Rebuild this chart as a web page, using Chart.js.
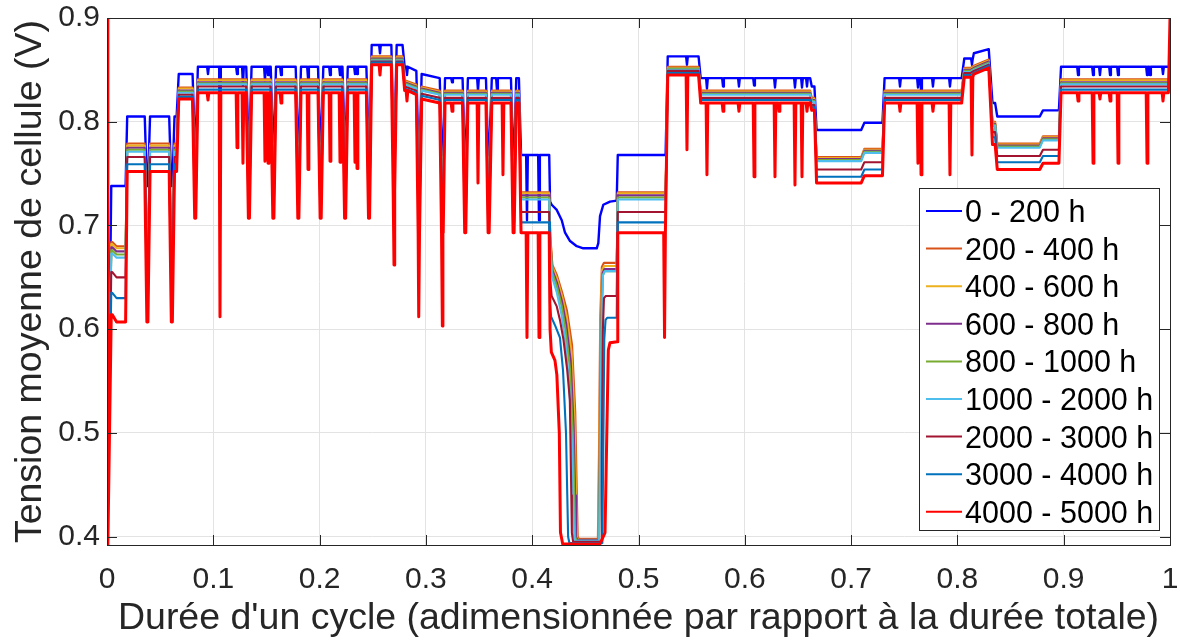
<!DOCTYPE html>
<html>
<head>
<meta charset="utf-8">
<script src="https://cdn.jsdelivr.net/npm/chart.js@4.4.1/dist/chart.umd.min.js"></script>
<style>
    html, body { margin: 0; padding: 0; background: #fff; }
    #wrap { width: 1180px; height: 641px; }
</style>
</head>
<body>
<div id="wrap"><canvas id="chart" width="1180" height="641"></canvas></div>
<script>
// legend / series
const seriesLabels = ['0 - 200 h', '200 - 400 h', '400 - 600 h', '600 - 800 h', '800 - 1000 h',
    '1000 - 2000 h', '2000 - 3000 h', '3000 - 4000 h', '4000 - 5000 h'];
const seriesColors = ['#0000FF', '#D95319', '#EDB120', '#7E2F8E', '#77AC30',
    '#4DBEEE', '#A2142F', '#0072BD', '#FF0000'];

const xTicks = [0, 0.1, 0.2, 0.3, 0.4, 0.5, 0.6, 0.7, 0.8, 0.9, 1];
const xTickLabels = ['0', '0.1', '0.2', '0.3', '0.4', '0.5', '0.6', '0.7', '0.8', '0.9', '1'];
const yTicks = [0.4, 0.5, 0.6, 0.7, 0.8, 0.9];
const yTickLabels = ['0.4', '0.5', '0.6', '0.7', '0.8', '0.9'];

// voltage levels (V), one value per series in the order above
const lvlEdge0   = [0.392, 0.392, 0.392, 0.392, 0.392, 0.392, 0.392, 0.392, 0.900];
const lvlFloor   = [0.392, 0.392, 0.392, 0.392, 0.392, 0.392, 0.392, 0.392, 0.392];
const lvlStartPk = [0.738, 0.684, 0.682, 0.679, 0.676, 0.673, 0.655, 0.635, 0.614];
const lvlStart   = [0.738, 0.680, 0.678, 0.675, 0.672, 0.669, 0.650, 0.630, 0.607];
const lvlLow     = [0.805, 0.779, 0.777, 0.775, 0.773, 0.771, 0.766, 0.759, 0.752];
const lvlHighE   = [0.846, 0.833, 0.832, 0.830, 0.829, 0.828, 0.826, 0.824, 0.822];
const lvlHigh    = [0.853, 0.841, 0.840, 0.838, 0.837, 0.836, 0.834, 0.831, 0.828];
const lvlGap1    = [0.781, 0.745, 0.744, 0.742, 0.740, 0.738, 0.729, 0.720, 0.707];
const lvlTop     = [0.874, 0.863, 0.862, 0.861, 0.860, 0.859, 0.858, 0.857, 0.855];
const lvlGapM    = [0.782, 0.757, 0.755, 0.753, 0.751, 0.749, 0.745, 0.740, 0.734];
const lvlSlopeA  = [0.853, 0.840, 0.839, 0.838, 0.837, 0.836, 0.834, 0.832, 0.830];
const lvlSlopeB  = [0.849, 0.836, 0.835, 0.834, 0.833, 0.832, 0.830, 0.828, 0.826];
const lvlMid     = [0.768, 0.732, 0.731, 0.729, 0.727, 0.725, 0.713, 0.703, 0.693];
const lvlHiB0    = [0.846, 0.834, 0.833, 0.832, 0.831, 0.830, 0.827, 0.825, 0.822];
const lvlHiB     = [0.842, 0.830, 0.829, 0.828, 0.827, 0.826, 0.823, 0.821, 0.818];
const lvlT       = [0.863, 0.853, 0.852, 0.851, 0.851, 0.850, 0.849, 0.847, 0.845];
const lvlHiBEnd  = [0.834, 0.823, 0.822, 0.821, 0.820, 0.819, 0.816, 0.814, 0.811];
const lvlV       = [0.792, 0.766, 0.765, 0.764, 0.763, 0.762, 0.754, 0.747, 0.741];
const lvlV2      = [0.799, 0.774, 0.773, 0.772, 0.771, 0.770, 0.761, 0.754, 0.748];
const lvlX1      = [0.861, 0.852, 0.851, 0.850, 0.849, 0.848, 0.847, 0.845, 0.843];
const lvlX2a     = [0.866, 0.854, 0.853, 0.852, 0.851, 0.850, 0.849, 0.847, 0.846];
const lvlX2b     = [0.870, 0.860, 0.859, 0.858, 0.857, 0.856, 0.855, 0.854, 0.852];
const lvlZ1      = [0.818, 0.800, 0.799, 0.798, 0.797, 0.796, 0.790, 0.785, 0.778];
const lvlZ       = [0.805, 0.779, 0.778, 0.777, 0.776, 0.775, 0.767, 0.761, 0.754];
const lvlZ2      = [0.811, 0.786, 0.785, 0.784, 0.783, 0.782, 0.773, 0.767, 0.760];
const lvlEdge1   = [0.853, 0.841, 0.840, 0.838, 0.837, 0.836, 0.834, 0.831, 0.900];

// plateaus of the cycle: [start, end, level at start, level at end]
const segments = [
    [0, 0, lvlEdge0], [0.0008, 0.0008, lvlFloor], [0.004, 0.005, lvlStartPk], [0.009, 0.0175, lvlStart],
    [0.0190, 0.0355, lvlLow], [0.0375, 0.0385, lvlStart], [0.0405, 0.0585, lvlLow],
    [0.0605, 0.0615, lvlStart], [0.0635, 0.0655, lvlLow], [0.0675, 0.0805, lvlHighE],
    [0.0825, 0.0835, lvlGap1], [0.0855, 0.1310, lvlHigh], [0.1330, 0.1340, lvlGap1],
    [0.1360, 0.1540, lvlHigh], [0.1560, 0.1570, lvlGap1], [0.1590, 0.1775, lvlHigh],
    [0.1795, 0.1805, lvlGap1], [0.1825, 0.1985, lvlHigh], [0.2005, 0.2015, lvlGap1],
    [0.2035, 0.2215, lvlHigh], [0.2235, 0.2245, lvlGap1], [0.2265, 0.2440, lvlHigh],
    [0.2460, 0.2470, lvlGap1], [0.2490, 0.2675, lvlTop], [0.2695, 0.2705, lvlGapM],
    [0.2725, 0.2780, lvlTop], [0.2800, 0.2910, lvlSlopeA, lvlSlopeB], [0.2930, 0.2940, lvlMid],
    [0.2960, 0.3130, lvlHiB0, lvlHiB], [0.3150, 0.3160, lvlMid], [0.3180, 0.3345, lvlHiB],
    [0.3365, 0.3375, lvlMid], [0.3395, 0.3565, lvlHiB], [0.3585, 0.3595, lvlMid],
    [0.3620, 0.3800, lvlHiB], [0.3820, 0.3830, lvlMid], [0.3850, 0.3875, lvlHiB],
    [0.3895, 0.4160, lvlMid],
    [0.4805, 0.5255, lvlMid], [0.5275, 0.5565, lvlT], [0.5585, 0.6615, lvlHiB],
    [0.6630, 0.6655, lvlHiBEnd], [0.6675, 0.7095, lvlV], [0.7125, 0.7295, lvlV2],
    [0.7315, 0.8040, lvlHiB], [0.8065, 0.8125, lvlX1], [0.8155, 0.8295, lvlX2a, lvlX2b],
    [0.8330, 0.8355, lvlZ1], [0.8375, 0.8775, lvlZ], [0.8805, 0.8955, lvlZ2],
    [0.8975, 0.9985, lvlHigh], [1, 1, lvlEdge1]
];

// the deep trough around x = 0.42 - 0.48, per series [x, V]
const troughCurves = [
    [[0.4168, 0.723], [0.4183, 0.720], [0.4231, 0.715], [0.4278, 0.705], [0.4309, 0.693], [0.4356, 0.685],
     [0.4419, 0.680], [0.4481, 0.678], [0.4607, 0.678], [0.4622, 0.683], [0.4638, 0.709], [0.4669, 0.720],
     [0.4732, 0.723], [0.4795, 0.724]],
    [[0.4170, 0.690], [0.4190, 0.662], [0.4233, 0.652], [0.4280, 0.636], [0.4327, 0.618], [0.4375, 0.585],
     [0.4405, 0.520], [0.4420, 0.440], [0.4428, 0.400], [0.4440, 0.398], [0.4618, 0.398], [0.4628, 0.480],
     [0.4640, 0.610], [0.4655, 0.660], [0.4675, 0.664], [0.4795, 0.664]],
    [[0.4170, 0.688], [0.4190, 0.660], [0.4233, 0.649], [0.4280, 0.632], [0.4325, 0.612], [0.4370, 0.578],
     [0.4398, 0.515], [0.4412, 0.440], [0.4420, 0.400], [0.4432, 0.397], [0.4622, 0.397], [0.4632, 0.480],
     [0.4644, 0.605], [0.4658, 0.657], [0.4678, 0.661], [0.4795, 0.661]],
    [[0.4170, 0.686], [0.4190, 0.657], [0.4233, 0.645], [0.4280, 0.627], [0.4320, 0.605], [0.4362, 0.570],
     [0.4390, 0.505], [0.4404, 0.440], [0.4412, 0.400], [0.4424, 0.397], [0.4626, 0.397], [0.4636, 0.480],
     [0.4648, 0.600], [0.4662, 0.654], [0.4680, 0.658], [0.4795, 0.658]],
    [[0.4170, 0.684], [0.4190, 0.654], [0.4233, 0.641], [0.4278, 0.622], [0.4316, 0.598], [0.4355, 0.562],
     [0.4382, 0.500], [0.4396, 0.440], [0.4404, 0.400], [0.4416, 0.396], [0.4628, 0.396], [0.4638, 0.480],
     [0.4650, 0.598], [0.4664, 0.652], [0.4682, 0.656], [0.4795, 0.656]],
    [[0.4170, 0.680], [0.4188, 0.650], [0.4230, 0.636], [0.4274, 0.615], [0.4310, 0.590], [0.4345, 0.552],
     [0.4372, 0.495], [0.4386, 0.440], [0.4394, 0.400], [0.4406, 0.396], [0.4630, 0.396], [0.4640, 0.480],
     [0.4652, 0.596], [0.4666, 0.652], [0.4684, 0.656], [0.4795, 0.656]],
    [[0.4168, 0.650], [0.4183, 0.632], [0.4231, 0.622], [0.4261, 0.609], [0.4294, 0.590], [0.4330, 0.560],
     [0.4354, 0.532], [0.4368, 0.440], [0.4373, 0.404], [0.4385, 0.395], [0.4648, 0.395], [0.4655, 0.480],
     [0.4665, 0.600], [0.4675, 0.630], [0.4692, 0.632], [0.4795, 0.632]],
    [[0.4167, 0.625], [0.4178, 0.612], [0.4218, 0.603], [0.4261, 0.592], [0.4290, 0.560], [0.4318, 0.500],
     [0.4330, 0.440], [0.4338, 0.400], [0.4350, 0.394], [0.4660, 0.394], [0.4668, 0.480], [0.4678, 0.590],
     [0.4690, 0.609], [0.4705, 0.611], [0.4795, 0.611]],
    [[0.4168, 0.600], [0.4180, 0.578], [0.4214, 0.570], [0.4232, 0.556], [0.4255, 0.500], [0.4266, 0.404],
     [0.4287, 0.393], [0.4638, 0.393], [0.4685, 0.404], [0.4716, 0.580], [0.4732, 0.587], [0.4798, 0.588]]
];

// short dips: position, bottom of the 0-200 h curve, bottom of the 4000-5000 h curve
const dipX    = [0.0950, 0.1063, 0.1223, 0.1279, 0.1486, 0.1515, 0.1637, 0.1891, 0.2098, 0.2192,
                 0.2333, 0.2352, 0.2568, 0.2700, 0.2822, 0.2935, 0.3155, 0.3246, 0.3490, 0.3669,
                 0.3725, 0.3951, 0.4064, 0.5245, 0.5456, 0.5644, 0.5795, 0.5945, 0.6087, 0.6284,
                 0.6322, 0.6472, 0.6538, 0.6585, 0.7460, 0.7629, 0.7658, 0.7770, 0.7930, 0.8137,
                 0.9135, 0.9276, 0.9341, 0.9436, 0.9511, 0.9784, 0.9812, 0.9934];
const dipBlue = [0.846, 0.744, 0.846, 0.835, 0.840, 0.845, 0.845, 0.842, 0.845, 0.845,
                 0.846, 0.846, 0.866, null, 0.845, null, null, 0.838, 0.830, 0.830,
                 null, 0.705, 0.705, null, 0.855, 0.832, 0.834, 0.834, 0.835, 0.833,
                 null, 0.833, 0.833, 0.834, 0.834, 0.833, 0.830, 0.834, 0.834, 0.855,
                 0.845, 0.845, 0.845, 0.845, 0.845, 0.845, 0.845, 0.846];
const dipRed  = [0.821, 0.612, 0.775, 0.760, 0.762, 0.760, 0.818, 0.754, 0.762, 0.761,
                 0.761, 0.755, 0.845, 0.662, 0.820, 0.612, 0.603, 0.810, 0.741, null,
                 0.749, 0.592, 0.592, 0.592, 0.773, 0.749, 0.810, 0.810, 0.747, 0.747,
                 0.810, 0.739, 0.747, 0.810, 0.810, 0.760, 0.749, 0.810, 0.749, 0.768,
                 0.820, 0.760, 0.822, 0.820, 0.760, 0.760, null, 0.820];

function levelAt(s, x) {
    let v = null;
    segments.forEach(seg => {
        if (seg[0] <= x) {
            v = (x <= seg[1] || !seg[3]) ? seg[2][s] : seg[3][s];
        }
    });
    return v;
}

function buildSeries(s) {
    const pts = [];
    segments.forEach(seg => {
        pts.push({ x: seg[0], y: seg[2][s] });
        if (seg[1] > seg[0]) pts.push({ x: seg[1], y: (seg[3] || seg[2])[s] });
    });
    troughCurves[s].forEach(p => pts.push({ x: p[0], y: p[1] }));

    const depths = s === 0 ? dipBlue : (s === 8 ? dipRed : null);
    if (depths) {
        const w = 0.0008;
        dipX.forEach((x, i) => {
            if (depths[i] === null) return;
            const base = levelAt(s, x);
            pts.push({ x: x - w, y: base }, { x: x, y: depths[i] }, { x: x + w, y: base });
        });
    }
    pts.sort((a, b) => a.x - b.x);
    return pts;
}

const datasets = seriesLabels.map((label, i) => ({
    label: label,
    data: buildSeries(i),
    borderColor: seriesColors[i],
    backgroundColor: seriesColors[i],
    borderWidth: i === 8 ? 3 : (i === 0 ? 2.4 : 2.1),
    borderJoinStyle: 'round',
    borderCapStyle: 'round',
    pointRadius: 0,
    tension: 0,
    order: seriesLabels.length - i   // red drawn last, on top
}));

const FONT = "'Liberation Sans', Arial, sans-serif";
const AXIS_COLOR = '#262626';

// box, inside tick marks and legend, MATLAB style
const framePlugin = {
    id: 'frame',
    afterDatasetsDraw(chart) {
        const { ctx, chartArea: a, scales } = chart;
        ctx.save();
        ctx.strokeStyle = AXIS_COLOR;
        ctx.lineWidth = 1;
        ctx.beginPath();
        xTicks.forEach(v => {
            const px = Math.round(scales.x.getPixelForValue(v)) + 0.5;
            ctx.moveTo(px, a.bottom); ctx.lineTo(px, a.bottom - 10);
            ctx.moveTo(px, a.top); ctx.lineTo(px, a.top + 10);
        });
        yTicks.forEach(v => {
            const py = Math.round(scales.y.getPixelForValue(v)) + 0.5;
            ctx.moveTo(a.left, py); ctx.lineTo(a.left + 10, py);
            ctx.moveTo(a.right, py); ctx.lineTo(a.right - 10, py);
        });
        ctx.stroke();
        ctx.strokeRect(Math.round(a.left) + 0.5, Math.round(a.top) + 0.5,
            Math.round(a.right - a.left), Math.round(a.bottom - a.top));
        ctx.restore();
    },
    afterDraw(chart) {
        const ctx = chart.ctx;
        const box = { left: 919, top: 188, right: 1159, bottom: 530 };
        const rowTop = 211, rowStep = 37.6;
        ctx.save();
        ctx.fillStyle = '#fff';
        ctx.fillRect(box.left, box.top, box.right - box.left, box.bottom - box.top);
        ctx.strokeStyle = AXIS_COLOR;
        ctx.lineWidth = 1;
        ctx.strokeRect(box.left + 0.5, box.top + 0.5, box.right - box.left, box.bottom - box.top);
        ctx.font = '30.5px ' + FONT;
        ctx.textBaseline = 'alphabetic';
        ctx.textAlign = 'left';
        chart.data.datasets.forEach((ds, i) => {
            const y = rowTop + i * rowStep;
            ctx.strokeStyle = ds.borderColor;
            ctx.lineWidth = 2;
            ctx.beginPath();
            ctx.moveTo(926, y); ctx.lineTo(962, y);
            ctx.stroke();
            ctx.fillStyle = '#000';
            ctx.fillText(ds.label, 965, y + 11);
        });
        ctx.restore();
    }
};

new Chart(document.getElementById('chart'), {
    type: 'line',
    data: { datasets: datasets },
    plugins: [framePlugin],
    options: {
        responsive: false,
        animation: false,
        parsing: false,
        normalized: true,
        events: [],
        layout: { padding: { top: 18, right: 10, left: 0, bottom: 0 } },
        plugins: { legend: { display: false }, tooltip: { enabled: false } },
        scales: {
            x: {
                type: 'linear',
                min: 0,
                max: 1,
                afterBuildTicks: scale => { scale.ticks = xTicks.map(v => ({ value: v })); },
                afterFit: scale => { scale.height = 96; scale.paddingLeft = 0; scale.paddingRight = 0; },
                ticks: {
                    autoSkip: false,
                    maxRotation: 0,
                    padding: 17,
                    color: AXIS_COLOR,
                    font: { family: FONT, size: 30 },
                    callback: (v, i) => xTickLabels[i]
                },
                grid: { color: '#e3e3e3', lineWidth: 1, drawTicks: false },
                border: { display: false },
                title: {
                    display: true,
                    text: "Durée d'un cycle (adimensionnée par rapport à la durée totale)",
                    color: AXIS_COLOR,
                    font: { family: FONT, size: 37.5 },
                    padding: { top: 0, bottom: 0 }
                }
            },
            y: {
                type: 'linear',
                min: 0.392,
                max: 0.9,
                afterBuildTicks: scale => { scale.ticks = yTicks.map(v => ({ value: v })); },
                afterFit: scale => { scale.width = 107; scale.paddingTop = 0; scale.paddingBottom = 0; },
                ticks: {
                    padding: 7,
                    color: AXIS_COLOR,
                    font: { family: FONT, size: 30 },
                    callback: (v, i) => yTickLabels[i]
                },
                grid: { color: '#e3e3e3', lineWidth: 1, drawTicks: false },
                border: { display: false },
                title: {
                    display: true,
                    text: 'Tension moyenne de cellule (V)',
                    color: AXIS_COLOR,
                    font: { family: FONT, size: 37.5 },
                    padding: { top: 8, bottom: 0 }
                }
            }
        }
    }
});
</script>
</body>
</html>
